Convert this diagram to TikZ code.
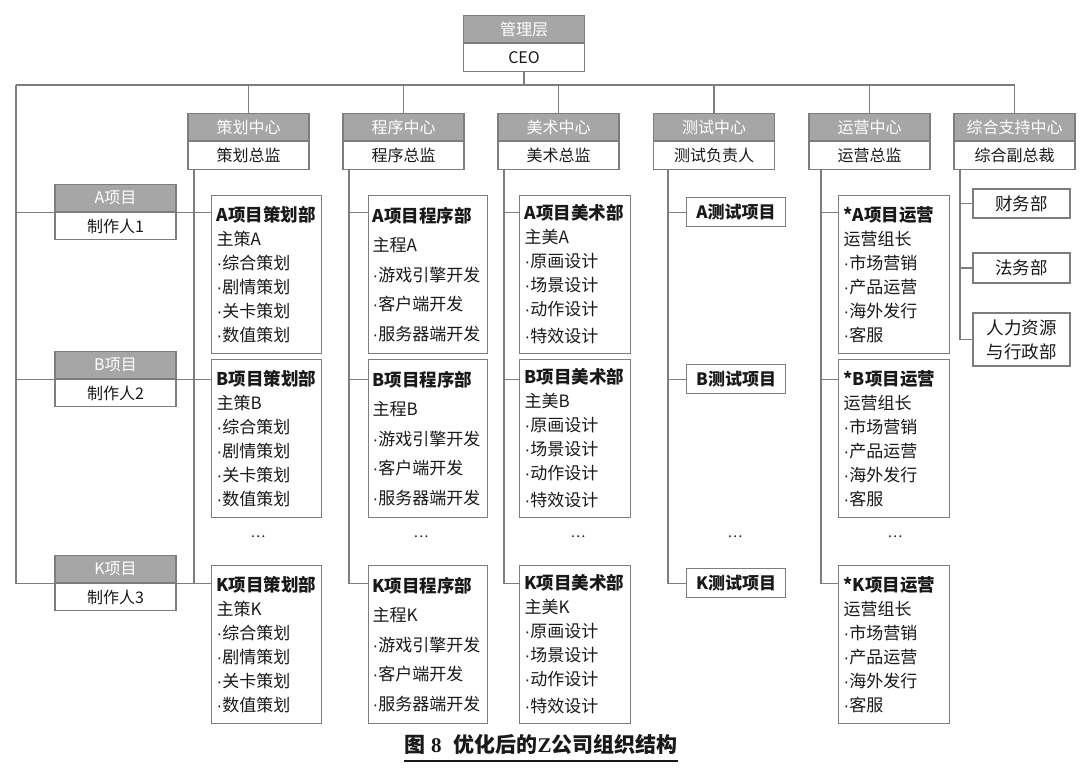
\documentclass[tikz,border=0pt]{standalone}
\usepackage{fontspec}
\setmainfont{Noto Sans CJK SC}
\newfontfamily\capnum{Liberation Serif}
\newfontfamily\dotfont{Liberation Sans}
\newcommand\bul{{\dotfont ·}}
\usepackage{tikz}
\usetikzlibrary{positioning,calc}

\definecolor{boxgray}{RGB}{166,166,166}
\definecolor{linegray}{RGB}{125,125,125}
\definecolor{ink}{RGB}{25,25,25}

\tikzset{
  link/.style={draw=linegray,line width=1.3pt},
  head/.style={draw=linegray,line width=1.2pt,fill=boxgray,text=white,minimum width=121pt,minimum height=27pt,inner sep=0pt,font=\fontsize{16}{16}\selectfont},
  chief/.style={draw=linegray,line width=1.2pt,fill=white,text=ink,minimum width=121pt,minimum height=28pt,inner sep=0pt,font=\fontsize{16}{16}\selectfont},
  dept/.style={draw=linegray,line width=1.2pt,fill=white,text=ink,anchor=north west,text width=#1,minimum height=158pt,inner xsep=5pt,inner ysep=0pt,align=left,font=\fontsize{17}{24}\selectfont},
  testbox/.style={draw=linegray,line width=1.2pt,fill=white,text=ink,minimum width=99pt,minimum height=29pt,inner sep=0pt,font=\bfseries\fontsize{17}{17}\selectfont},
  unit/.style={draw=linegray,line width=1.2pt,fill=white,text=ink,minimum width=97pt,inner sep=0pt,align=center,font=\fontsize{17.5}{24}\selectfont},
  ttl/.style={font=\bfseries\fontsize{17.5}{17.5}\selectfont},
}

\begin{document}
\begin{tikzpicture}[x=1pt,y=-1pt]
    \useasboundingbox (0,0) rectangle (1080,773);

    % === CEO ===
    \node[head,anchor=north] (ceo-h) at (524,15) {管理层};
    \node[chief,anchor=north] (ceo-b) at (ceo-h.south) {CEO};
    \coordinate (spine) at (16,85);

    % === Centres ===
    \foreach \n/\x/\t/\b in {cehua/248.5/策划中心/策划总监, chengxu/403.5/程序中心/程序总监,
        meishu/558.5/美术中心/美术总监, ceshi/714/测试中心/测试负责人,
        yunying/869.5/运营中心/运营总监, zhichi/1014.5/综合支持中心/综合副总裁} {
        \node[head,anchor=north] (\n-h) at (\x,113) {\t};
        \node[chief,anchor=north] (\n-b) at (\n-h.south) {\b};
        \draw[link] (\n-h.north |- spine) -- (\n-h.north);
    }
    \draw[link] (ceo-b.south) -- (ceo-b.south |- spine);
    \draw[link] (spine) -- (zhichi-h.north |- spine);

    % === Projets ===
    \foreach \r/\y/\k in {A/184/1, B/351/2, K/555/3} {
        \node[head,anchor=north] (p\r-h) at (115.5,\y) {\r{}项目};
        \node[chief,anchor=north,minimum height=27pt] (p\r-b) at (p\r-h.south) {制作人\k};
    }

    % === Departements ===
    \foreach \r/\y in {A/195, B/359, K/565} {
        \node[dept=100pt] (cehua-\r) at (211,\y)
            {{\bfseries\fontsize{17.5}{17.5}\selectfont\r{}项目策划部}\\主策\r\\\bul 综合策划\\\bul 剧情策划\\\bul 关卡策划\\\bul 数值策划};
        \node[dept=111pt,inner xsep=4pt,font=\fontsize{17}{29.5}\selectfont] (chengxu-\r) at (368,\y)
            {{\bfseries\fontsize{17.5}{17.5}\selectfont\r{}项目程序部}\\主程\r\\\bul 游戏引擎开发\\\bul 客户端开发\\\bul 服务器端开发};
        \node[dept=101pt] (meishu-\r) at (519,\y)
            {{\bfseries\fontsize{17.5}{17.5}\selectfont\r{}项目美术部}\\主美\r\\\bul 原画设计\\\bul 场景设计\\\bul 动作设计\\[3pt]\bul 特效设计};
        \node[testbox,anchor=west] (ceshi-\r) at (p\r-h.south -| 686,0) {\r{}测试项目};
        \node[dept=101pt] (yunying-\r) at (838,\y)
            {{\bfseries\fontsize{17.5}{17.5}\selectfont*\r{}项目运营}\\运营组长\\\bul 市场营销\\\bul 产品运营\\\bul 海外发行\\\bul 客服};
    }

    % === Support ===
    \node[unit,minimum height=29pt] (caiwu) at (1021.5,203.5) {财务部};
    \node[unit,minimum height=30pt] (fawu) at (1021.5,268) {法务部};
    \node[unit,minimum height=53pt] (renli) at (1021.5,339.5) {人力资源\\与行政部};
    \draw[link] (zhichi-b.south -| 960,0) |- (renli.west);
    \draw[link] (960,0 |- caiwu.west) -- (caiwu.west);
    \draw[link] (960,0 |- fawu.west) -- (fawu.west);

    % Liaisons
    \draw[link] (spine) |- (pK-h.south west);
    \foreach \r in {A,B} {
        \draw[link] (spine |- p\r-h.south) -- (p\r-h.south west);
    }
    \foreach \r in {A,B,K} {
        \draw[link] (p\r-h.south east) -- (cehua-\r.west |- p\r-h.south);
    }
    \foreach \n/\lx in {cehua/194, chengxu/349, meishu/504, ceshi/668, yunying/821} {
        \draw[link] (\n-b.south -| \lx,0) |- (\n-K.west |- pK-h.south);
        \draw[link] (\lx,0 |- pA-h.south) -- (\n-A.west |- pA-h.south);
        \draw[link] (\lx,0 |- pB-h.south) -- (\n-B.west |- pB-h.south);
    }

    % Points de suspension
    \foreach \n/\x in {cehua/258, chengxu/421, meishu/578, ceshi/735, yunying/895} {
        \node[text=ink,font=\fontsize{14}{14}\selectfont] (dots-\n) at (\x,537) {…};
    }

    % Titre
    \node[text=ink,inner xsep=0pt,font=\bfseries\fontsize{21}{21}\selectfont] (title) at (541,745)
        {图\hspace{6pt}{\capnum\bfseries 8}\hspace{12pt}优化后的{\capnum\bfseries Z}公司组织结构};
    \draw[ink,line width=1.2pt] ([yshift=-8pt]title.base west) -- ([yshift=-8pt]title.base east);
\end{tikzpicture}
\end{document}
